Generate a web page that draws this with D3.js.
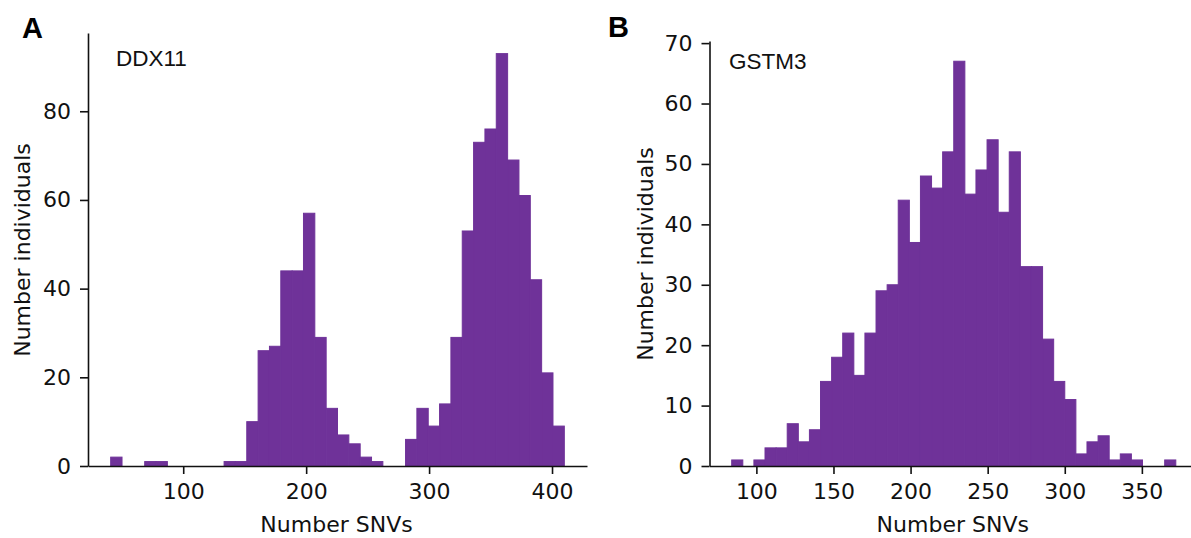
<!DOCTYPE html>
<html>
<head>
<meta charset="utf-8">
<script src="https://cdn.jsdelivr.net/npm/d3@7"></script>
<style>
  html, body { margin: 0; padding: 0; background: #fff; }
  svg { display: block; }
</style>
</head>
<body>
<svg id="chart" width="1191" height="538"></svg>
<script>
// ---------- data ----------
const ddx11Counts = [2,0,0,1,1,0,0,0,0,0,1,1,10,26,27,44,44,57,29,13,7,5,2,1,0,0,6,13,9,14,29,53,73,76,93,69,61,42,21,9];
const ddx11BinRange = [41, 410];
const ddx11XTicks = [100, 200, 300, 400];
const ddx11YTicks = [0, 20, 40, 60, 80];

const gstm3Counts = [1,0,1,3,3,7,4,6,14,18,22,15,22,29,30,44,37,48,46,52,67,45,49,54,42,52,33,33,21,14,11,2,4,5,1,2,1,0,0,1];
const gstm3BinRange = [84, 372];
const gstm3XTicks = [100, 150, 200, 250, 300, 350];
const gstm3YTicks = [0, 10, 20, 30, 40, 50, 60, 70];

const panelLetters = ["A", "B"];
const geneNames = ["DDX11", "GSTM3"];
const xLabel = "Number SNVs";
const yLabel = "Number individuals";

// ---------- drawing ----------
const svg = d3.select("#chart");
const barColor = "#6f3299";
const axisColor = "#111";
const tickFont = "'DejaVu Sans', sans-serif";
const titleFont = "'Liberation Sans', Arial, sans-serif";

function makeBins(counts, range) {
  const w = (range[1] - range[0]) / counts.length;
  return counts.map((c, i) => ({ x0: range[0] + i * w, x1: range[0] + (i + 1) * w, count: c }));
}

function drawPanel(opts) {
  const bins = makeBins(opts.counts, opts.binRange);
  const span = opts.binRange[1] - opts.binRange[0];
  const x = d3.scaleLinear()
    .domain([opts.binRange[0] - 0.05 * span, opts.binRange[1] + 0.05 * span])
    .range([opts.left, opts.right]);
  const yMax = d3.max(opts.counts) * 1.05;
  const y = d3.scaleLinear().domain([0, yMax]).range([opts.bottom, opts.top]);

  const g = svg.append("g");

  g.append("g").selectAll("rect")
    .data(bins.filter(d => d.count > 0))
    .join("rect")
    .attr("x", d => x(d.x0))
    .attr("width", d => x(d.x1) - x(d.x0))
    .attr("y", d => y(d.count))
    .attr("height", d => y(0) - y(d.count))
    .attr("fill", barColor)
    .attr("stroke", barColor)
    .attr("stroke-width", 1);

  // x axis
  const xAxis = d3.axisBottom(x).tickValues(opts.xTicks).tickSize(8).tickPadding(9).tickSizeOuter(0);
  const gx = g.append("g").attr("transform", `translate(0,${opts.bottom})`).call(xAxis);
  gx.select(".domain").attr("stroke", axisColor).attr("stroke-width", 1.6);
  gx.selectAll(".tick line").attr("stroke", axisColor).attr("stroke-width", 1.6);
  gx.selectAll(".tick text").attr("font-family", tickFont).attr("font-size", 22).attr("fill", "#111");

  // y axis
  const yAxis = d3.axisLeft(y).tickValues(opts.yTicks).tickSize(8).tickPadding(9).tickSizeOuter(0);
  const gy = g.append("g").attr("transform", `translate(${opts.left},0)`).call(yAxis);
  gy.select(".domain").attr("stroke", axisColor).attr("stroke-width", 1.6);
  gy.selectAll(".tick line").attr("stroke", axisColor).attr("stroke-width", 1.6);
  gy.selectAll(".tick text").attr("font-family", tickFont).attr("font-size", 22).attr("fill", "#111");

  // axis labels
  g.append("text")
    .attr("x", (opts.left + opts.right) / 2 - 1)
    .attr("y", opts.bottom + 66)
    .attr("text-anchor", "middle")
    .attr("font-family", tickFont).attr("font-size", 22).attr("fill", "#111")
    .text(xLabel);
  g.append("text")
    .attr("transform", `translate(${opts.yLabelX},${opts.yLabelY}) rotate(-90)`)
    .attr("text-anchor", "middle")
    .attr("font-family", tickFont).attr("font-size", 22).attr("fill", "#111")
    .text(yLabel);

  // gene label
  g.append("text")
    .attr("x", opts.geneX).attr("y", opts.geneY)
    .attr("font-family", titleFont).attr("font-size", 22.5).attr("fill", "#111")
    .text(opts.gene);

  // panel letter
  g.append("text")
    .attr("x", opts.letterX).attr("y", opts.letterY)
    .attr("font-family", titleFont).attr("font-weight", "bold").attr("font-size", 29).attr("fill", "#000")
    .text(opts.letter);
}

drawPanel({
  counts: ddx11Counts, binRange: ddx11BinRange, xTicks: ddx11XTicks, yTicks: ddx11YTicks,
  left: 88, right: 587, top: 33, bottom: 466,
  yLabelX: 30, yLabelY: 250,
  gene: geneNames[0], geneX: 116, geneY: 66,
  letter: panelLetters[0], letterX: 22, letterY: 38
});

drawPanel({
  counts: gstm3Counts, binRange: gstm3BinRange, xTicks: gstm3XTicks, yTicks: gstm3YTicks,
  left: 709.5, right: 1198, top: 41, bottom: 466,
  yLabelX: 653, yLabelY: 254,
  gene: geneNames[1], geneX: 729, geneY: 69,
  letter: panelLetters[1], letterX: 608, letterY: 37
});
</script>
</body>
</html>
